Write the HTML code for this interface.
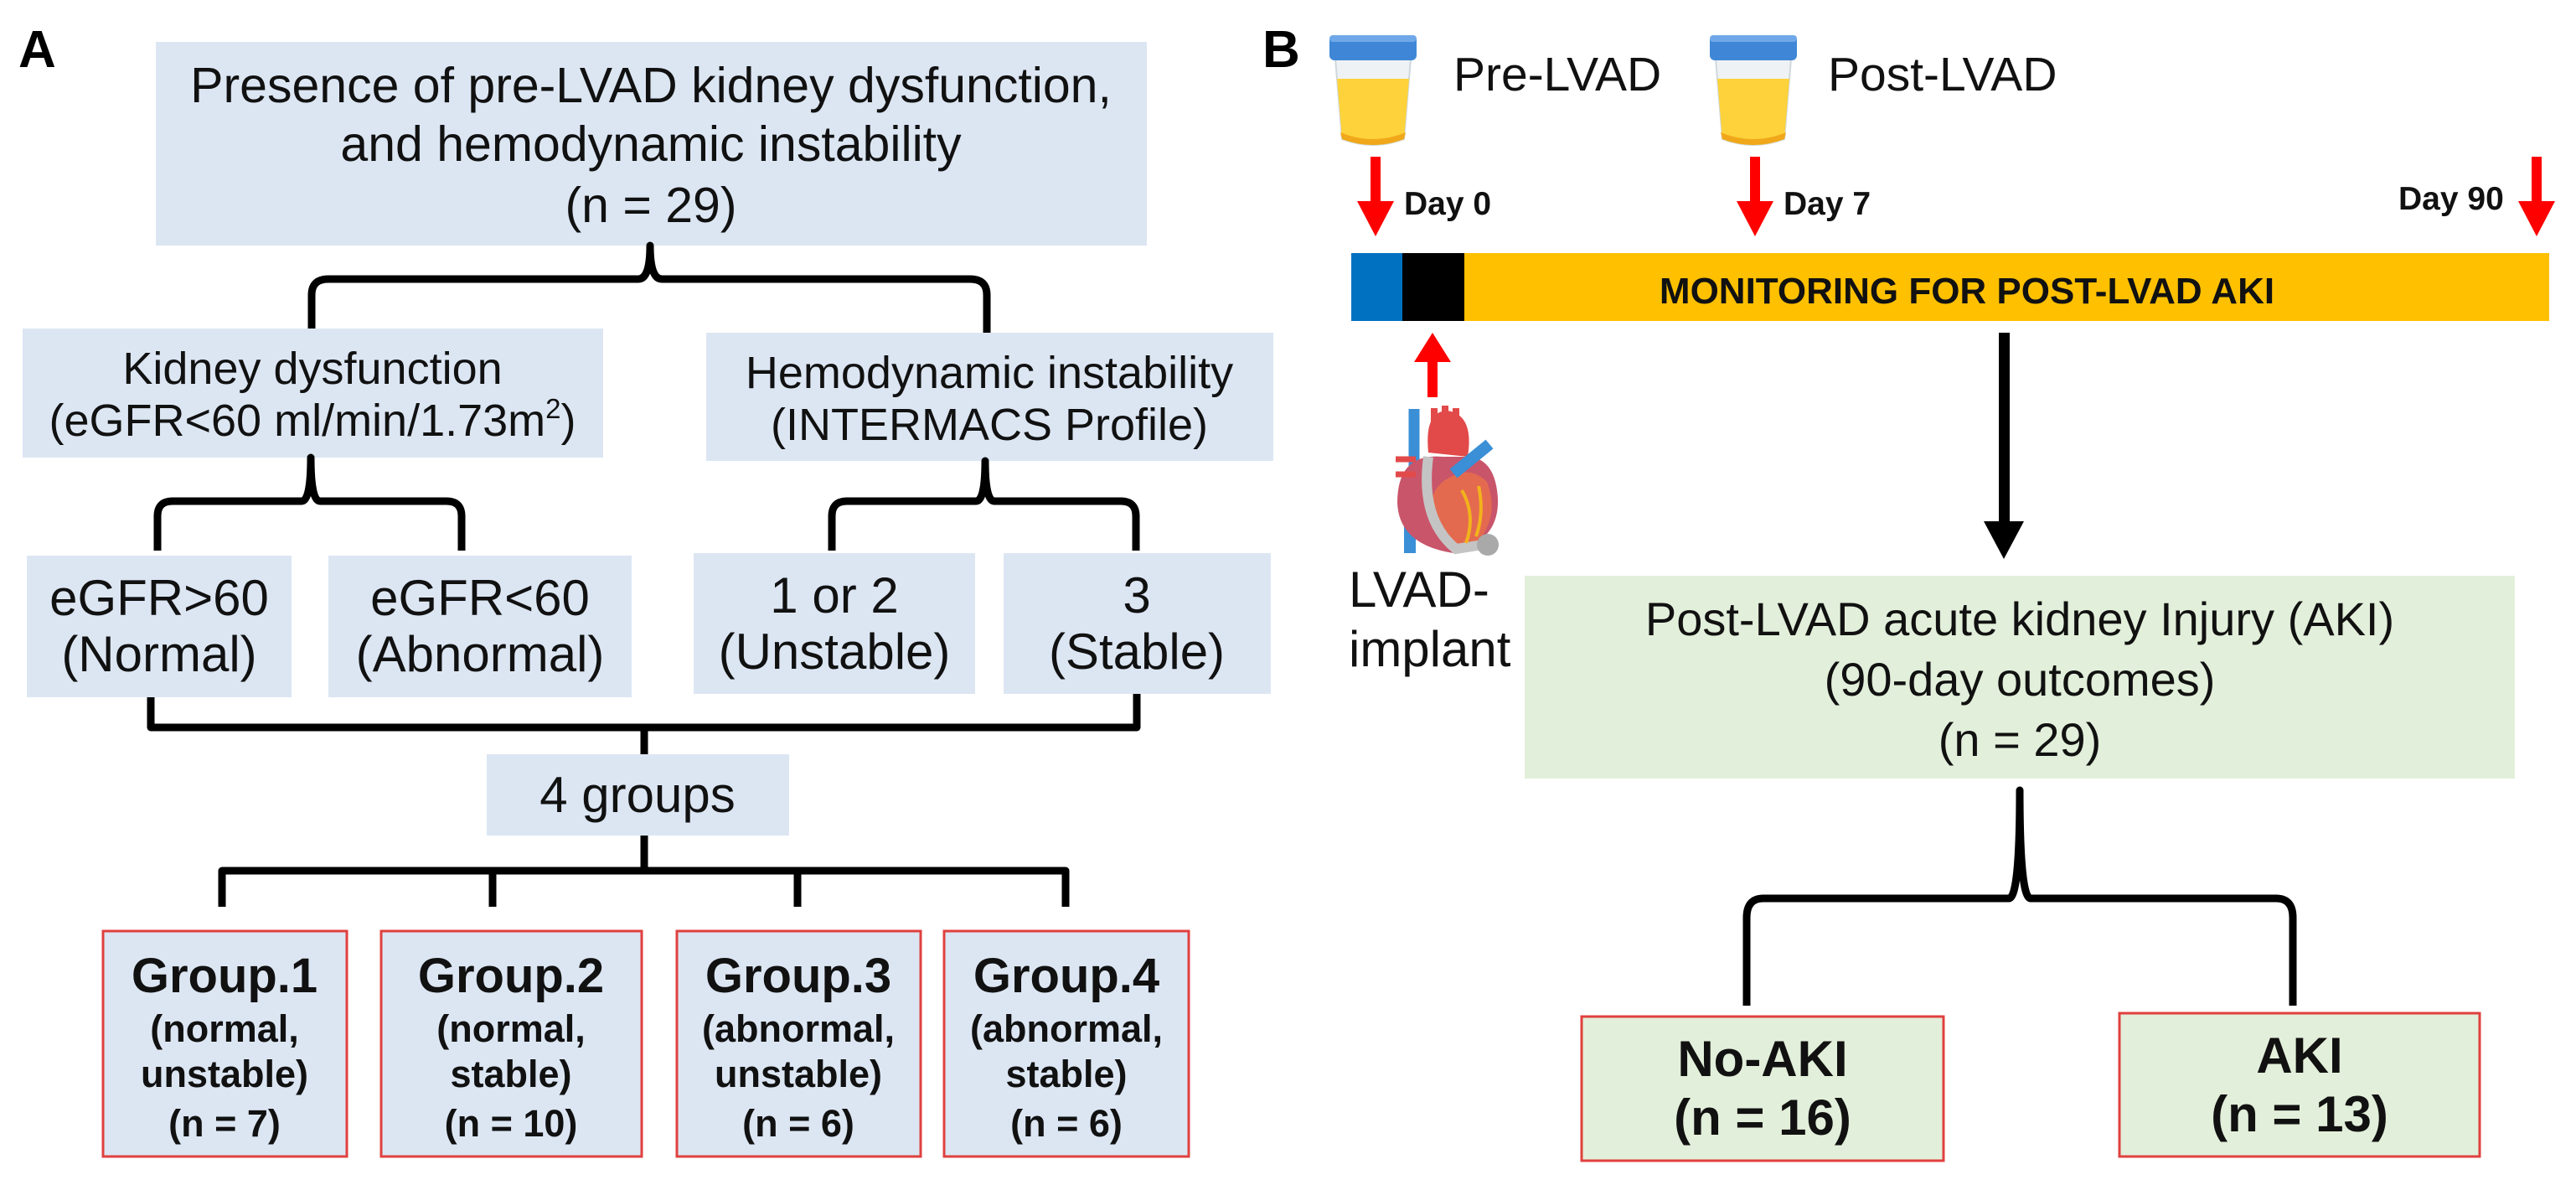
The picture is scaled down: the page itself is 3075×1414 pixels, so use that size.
<!DOCTYPE html>
<html><head><meta charset="utf-8"><style>
html,body{margin:0;padding:0;background:#fff;}
svg{display:block;font-family:"Liberation Sans",Arial,sans-serif;}
</style></head><body>
<svg width="3075" height="1414" viewBox="0 0 3075 1414" xmlns="http://www.w3.org/2000/svg">
<!-- Panel A -->
<text x="22" y="80" font-size="62" font-weight="bold">A</text>
<g fill="#dce6f3">
<rect x="186" y="50" width="1183" height="243"/>
<rect x="27" y="392" width="693" height="154"/>
<rect x="843" y="397" width="677" height="153"/>
<rect x="32" y="663" width="316" height="169"/>
<rect x="392" y="663" width="362" height="169"/>
<rect x="828" y="660" width="336" height="168"/>
<rect x="1198" y="660" width="319" height="168"/>
<rect x="581" y="900" width="361" height="97"/>
</g>
<g fill="#dce6f3" stroke="#e0403f" stroke-width="3">
<rect x="123" y="1111" width="291" height="269"/>
<rect x="455" y="1111" width="311" height="269"/>
<rect x="808" y="1111" width="291" height="269"/>
<rect x="1127" y="1111" width="292" height="269"/>
</g>
<g font-size="59" text-anchor="middle" fill="#111">
<text x="777" y="122">Presence of pre-LVAD kidney dysfunction,</text>
<text x="777" y="192">and hemodynamic instability</text>
<text x="777" y="265">(n = 29)</text>
</g>
<g font-size="54" text-anchor="middle" fill="#111">
<text x="373" y="458">Kidney dysfunction</text>
<text x="373" y="520">(eGFR&lt;60 ml/min/1.73m<tspan font-size="33" dy="-21">2</tspan><tspan dy="21">)</tspan></text>
<text x="1181" y="463">Hemodynamic instability</text>
<text x="1181" y="525">(INTERMACS Profile)</text>
</g>
<g font-size="60" text-anchor="middle" fill="#111">
<text x="190" y="734">eGFR&gt;60</text>
<text x="190" y="801">(Normal)</text>
<text x="573" y="734">eGFR&lt;60</text>
<text x="573" y="801">(Abnormal)</text>
<text x="996" y="731">1 or 2</text>
<text x="996" y="798">(Unstable)</text>
<text x="1357" y="731">3</text>
<text x="1357" y="798">(Stable)</text>
<text x="761" y="969">4 groups</text>
</g>
<g text-anchor="middle" font-weight="bold" fill="#111">
<g font-size="58">
<text x="268" y="1184">Group.1</text><text x="610" y="1184">Group.2</text>
<text x="953" y="1184">Group.3</text><text x="1273" y="1184">Group.4</text>
</g>
<g font-size="45">
<text x="268" y="1243">(normal,</text><text x="268" y="1297">unstable)</text><text x="268" y="1356">(n = 7)</text>
<text x="610" y="1243">(normal,</text><text x="610" y="1297">stable)</text><text x="610" y="1356">(n = 10)</text>
<text x="953" y="1243">(abnormal,</text><text x="953" y="1297">unstable)</text><text x="953" y="1356">(n = 6)</text>
<text x="1273" y="1243">(abnormal,</text><text x="1273" y="1297">stable)</text><text x="1273" y="1356">(n = 6)</text>
</g>
</g>
<g fill="none" stroke="#000" stroke-width="9" stroke-linejoin="round">
<path d="M372,392 L372,352 Q372,333 392,333 L762,333 Q776,333 776,293 Q776,333 790,333 L1158,333 Q1178,333 1178,352 L1178,397"/>
<path d="M188,657 L188,616 Q188,598 206,598 L360,598 Q371,598 371,546 Q371,598 382,598 L533,598 Q551,598 551,616 L551,657"/>
<path d="M993,657 L993,616 Q993,598 1011,598 L1165,598 Q1176,598 1176,550 Q1176,598 1187,598 L1338,598 Q1356,598 1356,616 L1356,657"/>
<path d="M180,832 L180,868 L1357,868 L1357,828"/>
<path d="M769,868 L769,900"/>
<path d="M769,997 L769,1039"/>
<path d="M265,1082 L265,1039 L1272,1039 L1272,1082"/>
<path d="M588,1039 L588,1082 M952,1039 L952,1082"/>
</g>

<!-- Panel B -->
<text x="1507" y="80" font-size="62" font-weight="bold">B</text>
<g>
<path d="M1594,70 L1684,70 L1676,166 Q1639,180 1602,166 Z" fill="#eef2f5" stroke="#cfd8de" stroke-width="2"/>
<path d="M1596,94 L1682,94 L1676,166 Q1639,180 1602,166 Z" fill="#fdd23a"/>
<path d="M1600,158 Q1639,174 1678,158 L1676,166 Q1639,180 1602,166 Z" fill="#f0a81a"/>
<rect x="1587" y="42" width="104" height="30" rx="6" fill="#3f87d6"/>
<rect x="1587" y="42" width="104" height="8" rx="4" fill="#6fa8e8"/>
</g>
<g>
<path d="M2048,70 L2138,70 L2130,166 Q2093,180 2056,166 Z" fill="#eef2f5" stroke="#cfd8de" stroke-width="2"/>
<path d="M2050,94 L2136,94 L2130,166 Q2093,180 2056,166 Z" fill="#fdd23a"/>
<path d="M2054,158 Q2093,174 2132,158 L2130,166 Q2093,180 2056,166 Z" fill="#f0a81a"/>
<rect x="2041" y="42" width="104" height="30" rx="6" fill="#3f87d6"/>
<rect x="2041" y="42" width="104" height="8" rx="4" fill="#6fa8e8"/>
</g>
<g font-size="57" fill="#111">
<text x="1735" y="108">Pre-LVAD</text>
<text x="2182" y="108">Post-LVAD</text>
</g>
<g fill="#ff0000">
<rect x="1636" y="187" width="12" height="55"/><polygon points="1620,240 1664,240 1642,282"/>
<rect x="2089" y="187" width="12" height="55"/><polygon points="2073,240 2117,240 2095,282"/>
<rect x="3022" y="187" width="12" height="55"/><polygon points="3006,240 3050,240 3028,282"/>
<rect x="1704" y="428" width="12" height="46"/><polygon points="1688,432 1732,432 1710,397"/>
</g>
<g font-size="39" font-weight="bold" fill="#111">
<text x="1676" y="256">Day 0</text>
<text x="2129" y="256">Day 7</text>
<text x="2863" y="250">Day 90</text>
</g>
<rect x="1613" y="302" width="61" height="81" fill="#0070c0"/>
<rect x="1674" y="302" width="74" height="81" fill="#000"/>
<rect x="1748" y="302" width="1295" height="81" fill="#ffc000"/>
<text x="2348" y="362" font-size="44" font-weight="bold" text-anchor="middle" fill="#111">MONITORING FOR POST-LVAD AKI</text>
<!-- heart -->
<g>
<path d="M1688,488 L1688,560" stroke="#3a8fd6" stroke-width="13"/>
<rect x="1676" y="580" width="14" height="80" fill="#3a8fd6"/>
<path d="M1705,540 Q1700,490 1728,490 Q1760,495 1752,545 Z" fill="#e24a4a"/>
<path d="M1712,505 L1712,487 M1725,500 L1725,484 M1738,502 L1738,487" stroke="#e24a4a" stroke-width="8"/>
<path d="M1722,545 Q1668,540 1668,600 Q1670,650 1735,660 Q1790,645 1788,595 Q1785,545 1750,545 Z" fill="#c9556a"/>
<path d="M1730,570 Q1700,585 1710,630 Q1735,660 1765,645 Q1790,615 1775,575 Q1755,555 1730,570 Z" fill="#e46a4f"/>
<path d="M1735,565 L1778,530" stroke="#3a8fd6" stroke-width="14"/>
<path d="M1666,548 L1690,548 M1666,566 L1690,566" stroke="#e24a4a" stroke-width="7"/>
<path d="M1705,545 Q1695,620 1738,655 L1770,650" fill="none" stroke="#c4c4c4" stroke-width="12"/>
<circle cx="1776" cy="650" r="13" fill="#a9a9a9"/>
<path d="M1745,585 Q1762,615 1750,648 M1765,580 Q1772,612 1762,640" fill="none" stroke="#f2b21c" stroke-width="4"/>
</g>
<g font-size="60" fill="#111">
<text x="1610" y="724">LVAD-</text>
<text x="1610" y="795">implant</text>
</g>
<rect x="2386" y="397" width="13" height="230" fill="#000"/>
<polygon points="2368,622 2416,622 2392,667" fill="#000"/>
<rect x="1820" y="687" width="1182" height="242" fill="#e2efda"/>
<g font-size="56" text-anchor="middle" fill="#111">
<text x="2411" y="758">Post-LVAD acute kidney Injury (AKI)</text>
<text x="2411" y="830">(90-day outcomes)</text>
<text x="2411" y="902">(n = 29)</text>
</g>
<path d="M2085,1200 L2085,1095 Q2085,1072 2105,1072 L2398,1072 Q2411,1072 2411,943 Q2411,1072 2424,1072 L2717,1072 Q2737,1072 2737,1095 L2737,1200" fill="none" stroke="#000" stroke-width="9" stroke-linejoin="round"/>
<rect x="1888" y="1213" width="432" height="172" fill="#e2efda" stroke="#e0403f" stroke-width="3"/>
<rect x="2530" y="1209" width="430" height="171" fill="#e2efda" stroke="#e0403f" stroke-width="3"/>
<g font-size="60" font-weight="bold" text-anchor="middle" fill="#111">
<text x="2104" y="1284">No-AKI</text>
<text x="2104" y="1354">(n = 16)</text>
<text x="2745" y="1280">AKI</text>
<text x="2745" y="1350">(n = 13)</text>
</g>
</svg>
</body></html>
